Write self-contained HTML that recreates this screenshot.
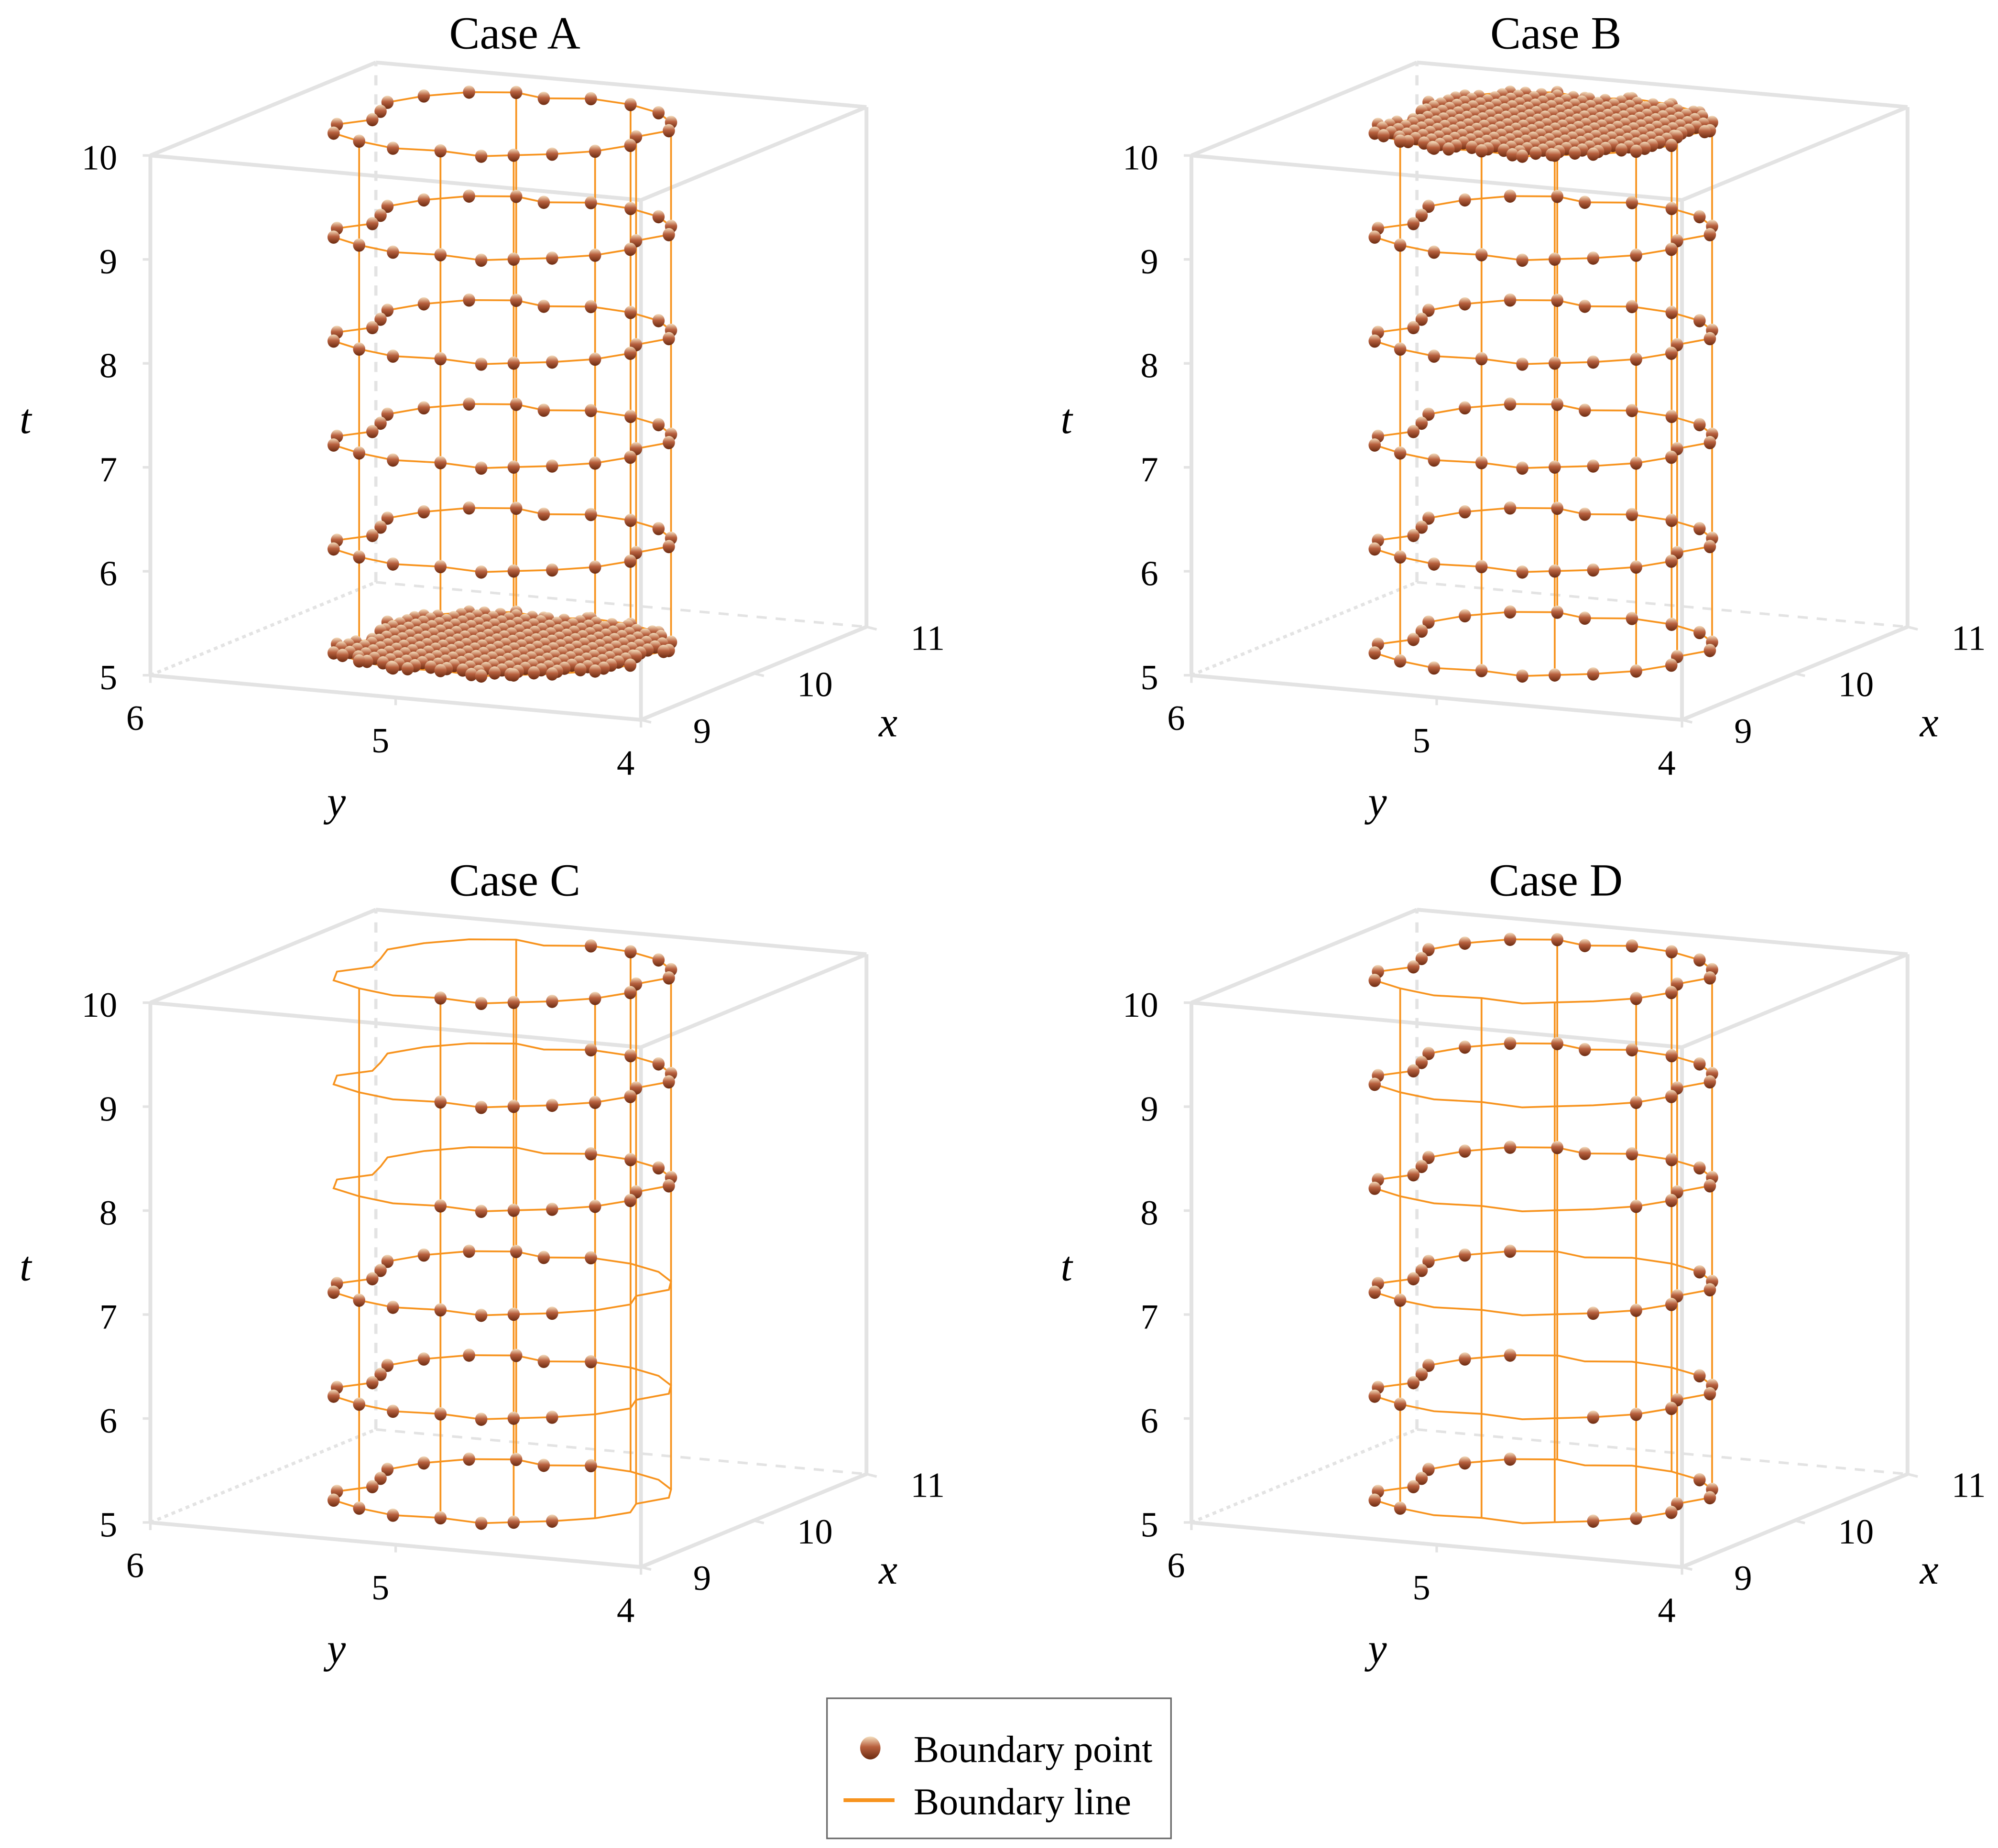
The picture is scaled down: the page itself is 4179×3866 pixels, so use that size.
<!DOCTYPE html>
<html><head><meta charset="utf-8">
<style>
html,body{margin:0;padding:0;background:#fff;}
svg{display:block;}
text{font-family:"Liberation Serif",serif;fill:#000;}
</style></head>
<body>
<svg id="fig" xmlns="http://www.w3.org/2000/svg" width="4179" height="3866" viewBox="0 0 1568 1450.5">
<defs>
<linearGradient id="ballL" x1="0" y1="0" x2="0" y2="1">
<stop offset="0" stop-color="#f5e0c0"/><stop offset="0.45" stop-color="#b8603e"/><stop offset="1" stop-color="#6a2a10"/>
</linearGradient>
</defs>
<rect width="1568" height="1450.5" fill="#fff"/>
<g id="panels"></g>
<g>
<rect x="649" y="1333" width="270" height="110" fill="#fff" stroke="#666" stroke-width="1.2"/>
<ellipse cx="683" cy="1372" rx="8" ry="9" fill="url(#ballL)"/>
<text x="717" y="1383" font-size="30">Boundary point</text>
<line x1="662" y1="1413" x2="702" y2="1413" stroke="#f7931e" stroke-width="3"/>
<text x="717" y="1424" font-size="30">Boundary line</text>
</g>
</svg>
<script>
// boundary outline in (x, y) data coordinates
const outlineX = [9.15,9.18,9.15,9.22,9.32,9.48,9.62,9.78,9.95,10.12,10.26,10.33,10.27,10.34,10.30,10.20,10.05,9.90,9.74,9.58,9.42,9.30,9.22];
const outlineY = [4.72,4.90,5.08,5.25,5.40,5.46,5.38,5.42,5.47,5.40,5.28,5.12,4.98,4.82,4.64,4.48,4.36,4.30,4.36,4.31,4.38,4.50,4.62];
const verticalIdx = [3,1,22,20,18,16,14,11];
const layerT = [5.2,6.2,7.2,8.2,9.2,10.2];
const cases = ["Case A","Case B","Case C","Case D"];
// per case, per layer: which points shown
const caseMasks = [
 ["fill","all","all","all","all","all"],
 ["all","all","all","all","all","fill"],
 ["left","left","left","right","right","right"],
 ["ends","ends","ends","back","back","back"]
];
const tTicks = [5,6,7,8,9,10];
const yTicks = [6,5,4];
const xTicks = [9,10,11];
const offsets = [[0,0],[817,0],[0,665],[817,665]];

const NS="http://www.w3.org/2000/svg";
const root=document.getElementById('panels');
function P(x,y,t,o){const a=(6-y)/2,b=(x-9)/2,c=(t-5)/5;
 return [o[0]+118+385*a+177*b, o[1]+530+35*a-73*b-408*c];}
function mk(tag,attrs,parent){const e=document.createElementNS(NS,tag);for(const k in attrs)e.setAttribute(k,attrs[k]);parent.appendChild(e);return e;}
function inPoly(x,y){let ins=false;const n=outlineX.length;
 for(let i=0,j=n-1;i<n;j=i++){const xi=outlineX[i],yi=outlineY[i],xj=outlineX[j],yj=outlineY[j];
  if(((yi>y)!=(yj>y))&&(x<(xj-xi)*(y-yi)/(yj-yi)+xi))ins=!ins;}return ins;}
function keep(mode,x,y){
 if(mode==='all'||mode==='fill')return true;
 if(mode==='right')return y<4.98;
 if(mode==='left')return y>4.75||x<9.35;
 if(mode==='back')return x>9.7||y>5.25||y<4.4;
 if(mode==='ends')return y>5.2||y<4.55;
 return false;}

cases.forEach((name,ci)=>{
 const o=offsets[ci];
 const g=mk('g',{},root);
 
 
 const box=mk('g',{fill:'none',stroke:'#e3e3e3','stroke-width':3},g);
 
 
 const c=(x,y,t)=>P(x,y,t,o);
 const L=(p,q,extra)=>mk('line',Object.assign({x1:p[0],y1:p[1],x2:q[0],y2:q[1]},extra||{}),box);
 L(c(11,6,5),c(11,6,10),{'stroke-dasharray':'8 7','stroke-width':2.5});
 L(c(9,6,5),c(11,6,5),{'stroke-dasharray':'3 3','stroke-width':2.5});
 L(c(11,6,5),c(11,4,5),{'stroke-dasharray':'8 7','stroke-width':2});
 L(c(9,6,5),c(9,6,10));L(c(9,4,5),c(9,4,10));L(c(11,4,5),c(11,4,10));
 L(c(9,6,5),c(9,4,5));L(c(9,4,5),c(11,4,5));
 L(c(9,6,10),c(9,4,10));L(c(9,4,10),c(11,4,10));L(c(9,6,10),c(11,6,10));L(c(11,6,10),c(11,4,10));
 tTicks.forEach(t=>{const p=c(9,6,t);L([p[0]-6,p[1]],p,{'stroke-width':2});
  const tx=mk('text',{x:p[0]-26,y:p[1]+11,'font-size':28,'text-anchor':'end'},g);tx.textContent=t;
  });
 yTicks.forEach(y=>{const p=c(9,y,5);L(p,[p[0],p[1]+6],{'stroke-width':2});
  const tx=mk('text',{x:p[0]-12,y:p[1]+43,'font-size':28,'text-anchor':'middle'},g);tx.textContent=y;
  });
 xTicks.forEach(x=>{const p=c(x,4,5);L(p,[p[0]+8,p[1]+2],{'stroke-width':2});
  const tx=mk('text',{x:p[0]+48,y:p[1]+18,'font-size':28,'text-anchor':'middle'},g);tx.textContent=x;
  });
 const at=(txt,x,y,n)=>{const e=mk('text',{x:x+o[0],y:y+o[1],'font-size':33,'font-style':'italic','text-anchor':'middle'},g);e.textContent=txt;
  };
 at('t',20,340,'t-axis-title');at('y',264,640,'y-axis-title');at('x',697,578,'x-axis-title');
 const ti=mk('text',{x:404+o[0],y:38+o[1],'font-size':36,'text-anchor':'middle'},g);ti.textContent=name;
 
 const lines=mk('g',{fill:'none',stroke:'#f7931e','stroke-width':1.4},g);
 
 
 verticalIdx.forEach(i=>{const a=c(outlineX[i],outlineY[i],layerT[0]),b=c(outlineX[i],outlineY[i],layerT[layerT.length-1]);
  const l=mk('line',{x1:a[0],y1:a[1],x2:b[0],y2:b[1]},lines);
  });
 layerT.forEach(t=>{const pts=outlineX.map((x,i)=>c(x,outlineY[i],t).join(',')).join(' ');
  const pl=mk('polygon',{points:pts},lines);
  });
 const dots=mk('g',{},g);
 
 
 layerT.forEach((t,li)=>{const mode=caseMasks[ci][li];let list=[];
  outlineX.forEach((x,i)=>{if(keep(mode,x,outlineY[i]))list.push([x,outlineY[i]]);});
  if(mode==='fill'){for(let x=9.16;x<=10.34;x+=0.065)for(let y=4.31;y<=5.47;y+=0.065)if(inPoly(x,y))list.push([x,y]);}
  list.sort((a,b)=>b[0]-a[0]||a[1]-b[1]);
  list.forEach(q=>{const p=c(q[0],q[1],t);
   const e=mk('ellipse',{cx:p[0],cy:p[1],rx:4.8,ry:5.2,fill:'url(#ballL)'},dots);
   });
 });
});
</script>
</body></html>
